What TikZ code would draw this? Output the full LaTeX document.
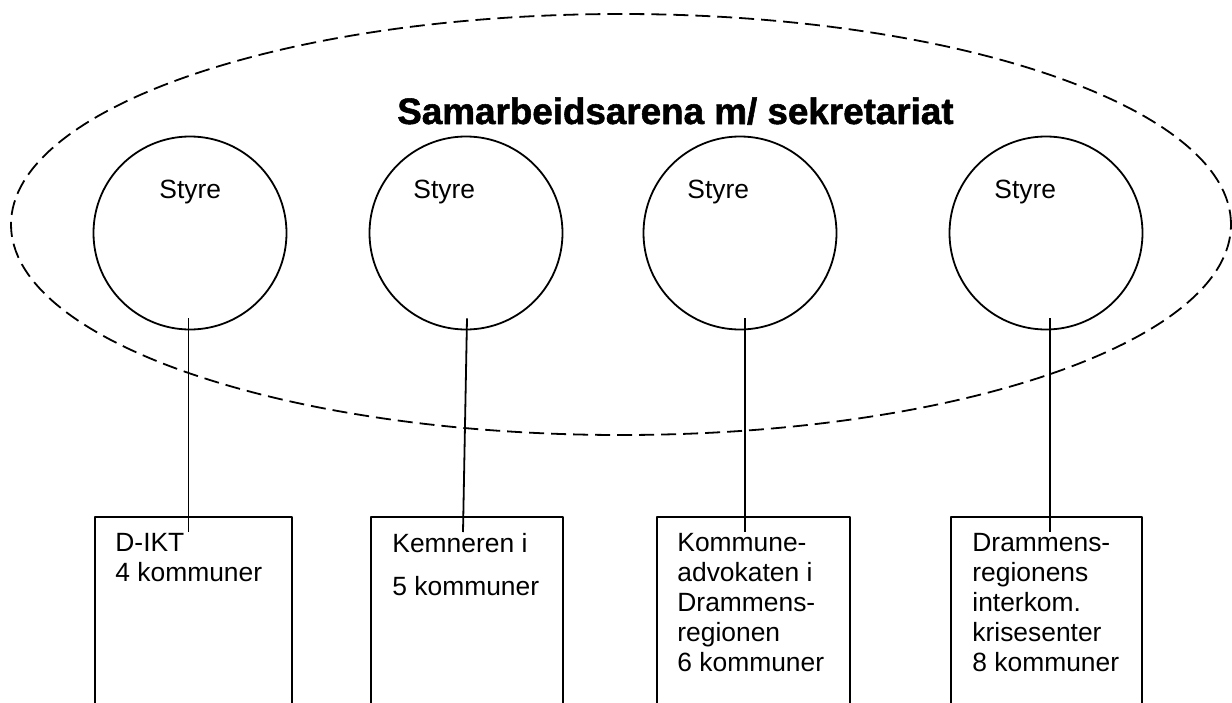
\documentclass[tikz,border=0pt]{standalone}
\usepackage{fontspec}
\setmainfont{Liberation Sans}
\newfontfamily\tittelfont[FakeBold=1.5]{Liberation Sans Bold}
\usetikzlibrary{shapes.geometric,calc}
\tikzset{
  arena/.style={ellipse,draw,dash pattern=on 7.5pt off 3.5pt,line width=0.9pt,inner sep=0pt},
  styre/.style={circle,draw,line width=0.9pt,minimum size=96.5pt,inner sep=0pt},
  kbox/.style={rectangle,draw,line width=0.9pt,anchor=north west,minimum height=130pt,inner sep=0pt},
  ktekst/.style={anchor=north west,align=left,inner sep=0pt,font=\fontsize{13.2}{15}\selectfont},
  forbind/.style={line width=0.9pt}
}
\begin{document}
\begin{tikzpicture}[x=0.5pt,y=-0.5pt, line join=round]
  \useasboundingbox (0,0) rectangle (1232,702);
  \clip (0,0) rectangle (1232,702);
  \node[arena,minimum width=610pt,minimum height=210.5pt] (ar) at (621,224.5) {};
  \node[anchor=base,inner sep=0pt,font=\tittelfont\fontsize{18.4}{20}\selectfont] (tittel) at (675.5,124) {Samarbeidsarena m/ sekretariat};
  % styrene
  \foreach \i/\cx/\tx in {1/190/159,2/466/413,3/740/687,4/1046/994}{
    \node[styre] (s\i) at (\cx,233) {};
    \node[ktekst,anchor=base west] (t\i) at (\tx,198) {Styre};
  }
  % boksene
  \node[kbox,minimum width=98.5pt] (b1) at (94,516) {};
  \node[kbox,minimum width=96pt] (b2) at (370,516) {};
  \node[kbox,minimum width=96.5pt] (b3) at (656,516) {};
  \node[kbox,minimum width=95.5pt] (b4) at (950,516) {};
  \node[ktekst] (l1) at (115,533) {D-IKT\\4 kommuner};
  \node[ktekst] (l2) at (392,533) {Kemneren i\\[6.5pt]5 kommuner};
  \node[ktekst] (l3) at (677,533) {Kommune-\\advokaten i\\Drammens-\\regionen\\6 kommuner};
  \node[ktekst] (l4) at (972,533) {Drammens-\\regionens\\interkom.\\krisesenter\\8 kommuner};
  % streker
  \draw[forbind] ($(s1.south)+(-1.5,-12)$) -- ($(s1.south |- b1.north)+(-1.5,16)$);
  \draw[forbind] ($(s2.south)+(1,-12)$) -- ($(s2.south |- b2.north)+(-3,16)$);
  \draw[forbind] ($(s3.south)+(5,-12)$) -- ($(s3.south |- b3.north)+(5,16)$);
  \draw[forbind] ($(s4.south)+(4,-12)$) -- ($(s4.south |- b4.north)+(4,16)$);
\end{tikzpicture}
\end{document}
